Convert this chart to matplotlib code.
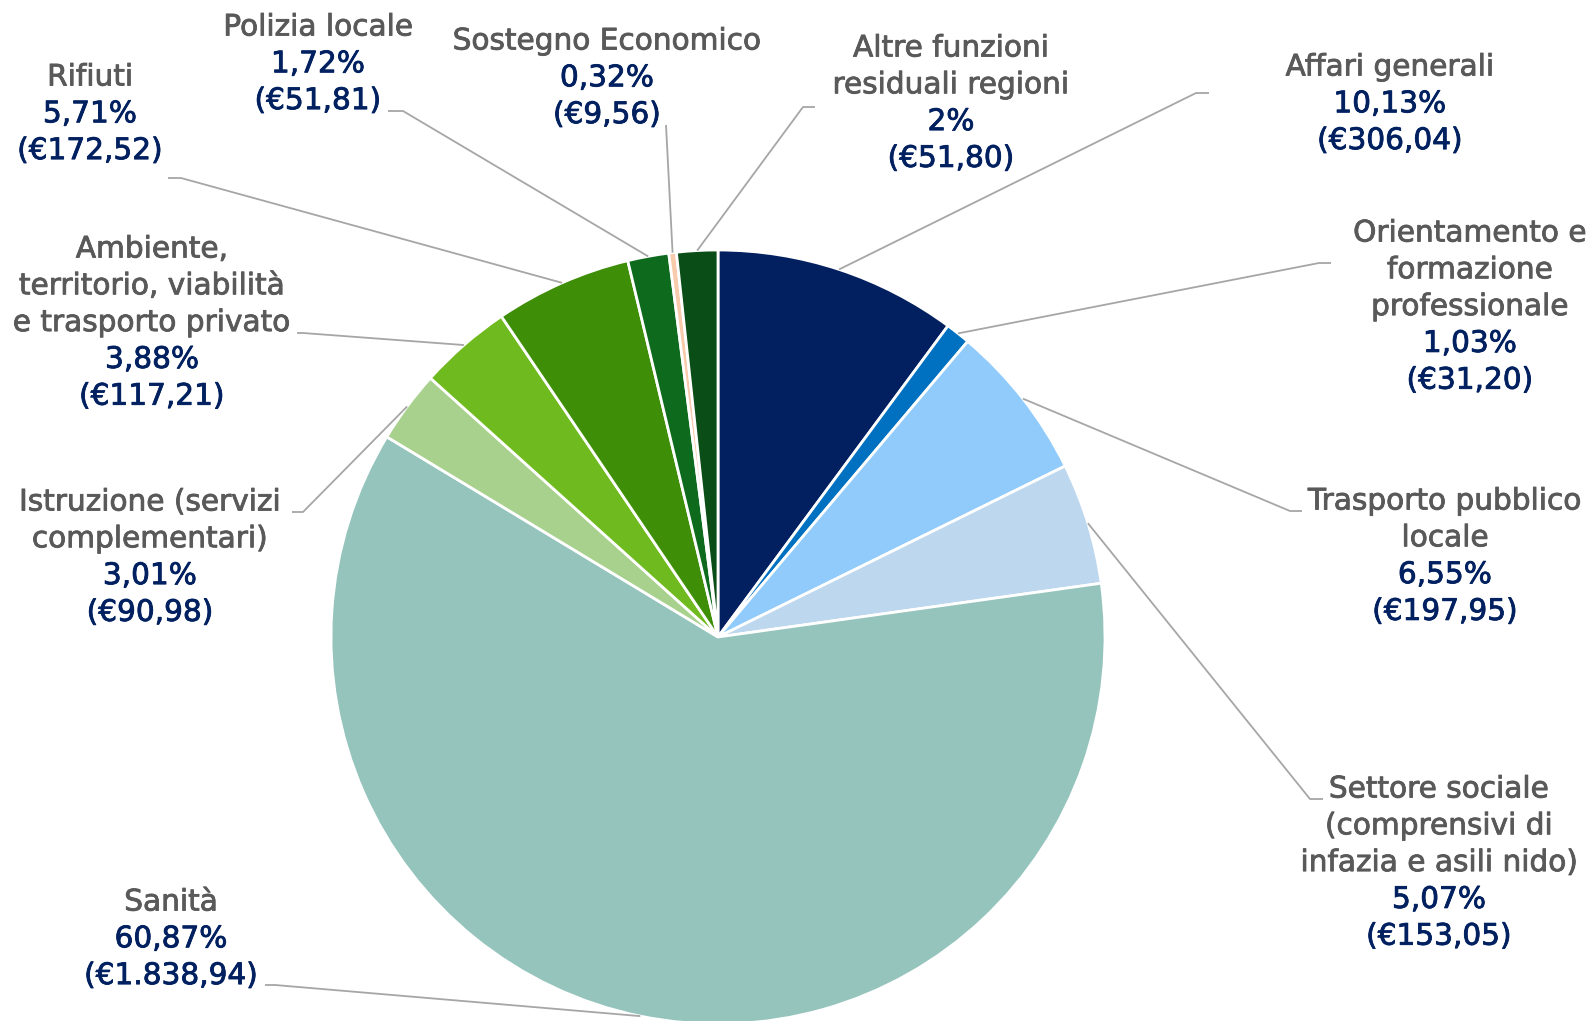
import numpy as np
import matplotlib.pyplot as plt
import matplotlib.patheffects as pe

# ---------------- DATA ----------------
categories = [
    "Affari generali",
    "Orientamento e\nformazione\nprofessionale",
    "Trasporto pubblico\nlocale",
    "Settore sociale\n(comprensivi di\ninfazia e asili nido)",
    "Sanità",
    "Istruzione (servizi\ncomplementari)",
    "Ambiente,\nterritorio, viabilità\ne trasporto privato",
    "Rifiuti",
    "Polizia locale",
    "Sostegno Economico",
    "Altre funzioni\nresiduali regioni",
]
values = [306.04, 31.20, 197.95, 153.05, 1838.94, 90.98, 117.21, 172.52, 51.81, 9.56, 51.80]
pct_labels = ["10,13%", "1,03%", "6,55%", "5,07%", "60,87%", "3,01%",
              "3,88%", "5,71%", "1,72%", "0,32%", "2%"]
value_labels = ["(€306,04)", "(€31,20)", "(€197,95)", "(€153,05)", "(€1.838,94)",
                "(€90,98)", "(€117,21)", "(€172,52)", "(€51,81)", "(€9,56)", "(€51,80)"]
colors = ["#022060", "#0070C0", "#91CBFC", "#BDD7EE", "#94C4BC", "#A9D18E",
          "#6FBA1F", "#3E8E08", "#0E6B1E", "#F8CBAD", "#0A4D16"]

# ---------------- LAYOUT (pixels) ----------------
W, H = 1594, 1021
CX, CY, R = 718, 637, 387
LINE = 36.8
# label centre x, first line y, elbow of leader, end of leader
label_pos = [
    (1390, 67, (1196, 93), (1209, 93)),
    (1470, 233, (1319, 263), (1331, 263)),
    (1445, 501, (1290, 511), (1302, 511)),
    (1439, 789, (1310, 799), (1323, 799)),
    (171, 902, (275, 985), (265, 985)),
    (150, 502, (303, 512), (292, 512)),
    (152, 249, (303, 333), (297, 333)),
    (90, 77, (181, 178), (168, 178)),
    (318, 27, (403, 111), (388, 111)),
    (607, 41, (666, 125), (666, 125)),
    (951, 48, (803, 107), (815, 107)),
]

GREY = "#595959"
NAVY = "#002060"
FONT = 21.3


def px(x, y):
    return (x - CX) / R, (CY - y) / R


fig = plt.figure(figsize=(W / 100, H / 100), dpi=100)
ax = fig.add_axes([0, 0, 1, 1])
ax.pie(values, colors=colors, startangle=90, counterclock=False, radius=1,
       wedgeprops=dict(edgecolor="white", linewidth=2))
ax.set_xlim(-CX / R, (W - CX) / R)
ax.set_ylim(-(H - CY) / R, CY / R)
ax.set_aspect("equal")
ax.axis("off")

total = sum(values)
cum = np.cumsum([0] + values[:-1])
for i, name in enumerate(categories):
    # leader line from label to the middle of the wedge's arc
    theta = np.deg2rad(90 - 360 * (cum[i] + values[i] / 2) / total)
    x0, y0, elbow, end = label_pos[i]
    ex, ey = px(*end)
    bx, by = px(*elbow)
    ax.plot([ex, bx, np.cos(theta)], [ey, by, np.sin(theta)],
            color="#A6A6A6", linewidth=1.3, solid_capstyle="butt", zorder=1)

    lines = [(t, GREY) for t in name.split("\n")]
    lines += [(pct_labels[i], NAVY), (value_labels[i], NAVY)]
    for k, (txt, col) in enumerate(lines):
        tx, ty = px(x0, y0 + k * LINE)
        ax.text(tx, ty, txt, ha="center", va="center", color=col,
                fontsize=FONT, family="DejaVu Sans",
                path_effects=[pe.withStroke(linewidth=0.6, foreground=col)])

fig.savefig("out.png", dpi=100)
